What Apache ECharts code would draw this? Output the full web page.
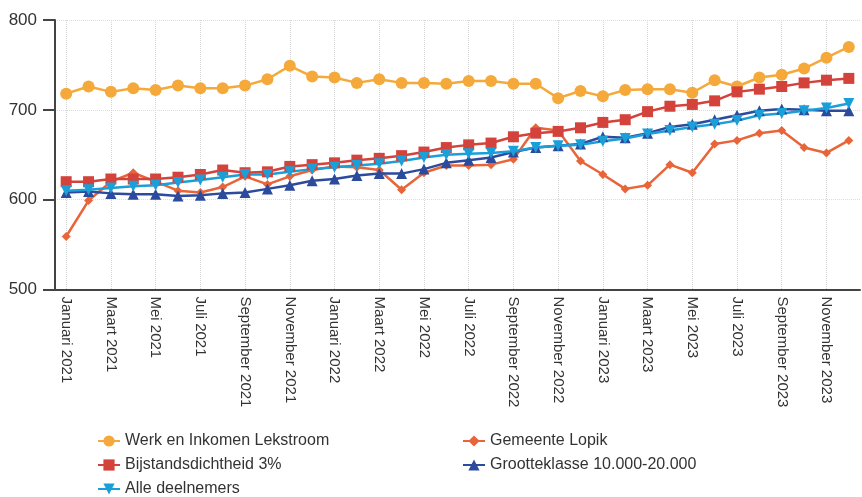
<!DOCTYPE html>
<html lang="nl">
<head>
    <meta charset="UTF-8">
    <title>Bijstand</title>
    <script type="text/javascript" src="https://cdn.jsdelivr.net/npm/echarts@6/dist/echarts.min.js"></script>
    <style>
        body { margin: 0; background: #fff; }
    </style>
</head>
<body>
<div id="main" style="width: 862px;height:497px"></div>
<script type="text/javascript">
    var maanden = ['Januari', 'Februari', 'Maart', 'April', 'Mei', 'Juni', 'Juli', 'Augustus', 'September', 'Oktober', 'November', 'December'];
    var jaren = [2021, 2022, 2023];
    var categories = [];
    for (var j = 0; j < jaren.length; j++) {
        for (var m = 0; m < maanden.length; m++) {
            categories.push(maanden[m] + ' ' + jaren[j]);
        }
    }

    var yTicks = [500, 600, 700, 800];

    var lekstroom = [718,726,720,724,722,727,724,724,727,734,749,737,736,730,734,730,730,729,732,732,729,729,713,721,715,722,723,723,719,733,726,736,739,746,758,770];
    var lopik = [559,599,620,630,620,610,608,614,626,617,626,633,637,636,633,611,630,638,638,639,645,680,677,643,628,612,616,639,630,662,666,674,677,658,652,666];
    var bijstand = [620,620,623,623,623,625,628,633,630,631,637,639,641,644,646,649,653,658,661,663,670,674,676,680,686,689,698,704,706,710,720,723,726,730,733,735];
    var grootte = [608,609,607,606,606,604,605,607,608,612,616,621,623,627,629,629,634,641,644,647,653,658,660,662,670,669,674,681,684,689,694,699,701,700,699,699];
    var alle = [610,611,613,615,616,619,622,625,628,628,631,634,636,638,640,643,647,650,651,652,654,658,660,661,665,668,673,677,681,684,688,694,696,699,702,707];

    var chartDom = document.getElementById('main');
    var myChart = echarts.init(chartDom);

    function lijn(naam, data, kleur, symbool, grootte, draai) {
        return {
            name: naam,
            type: 'line',
            data: data,
            symbol: symbool,
            symbolSize: grootte,
            symbolRotate: draai || 0,
            color: kleur,
            lineStyle: { width: 2.5, color: kleur },
            itemStyle: { color: kleur },
            animation: false
        };
    }

    var font = 'Liberation Sans, Arial, sans-serif';

    var option = {
        backgroundColor: '#fff',
        grid: { left: 55, right: 2, top: 20, bottom: 207.5 },
        legend: [
            {
                left: 92, top: 428, height: 80, orient: 'vertical', itemGap: 8,
                itemWidth: 22, itemHeight: 14,
                textStyle: { fontFamily: font, fontSize: 16, color: '#333' },
                data: ['Werk en Inkomen Lekstroom', 'Bijstandsdichtheid 3%', 'Alle deelnemers']
            },
            {
                left: 457, top: 428, height: 80, orient: 'vertical', itemGap: 8,
                itemWidth: 22, itemHeight: 14,
                textStyle: { fontFamily: font, fontSize: 16, color: '#333' },
                data: ['Gemeente Lopik', 'Grootteklasse 10.000-20.000']
            }
        ],
        xAxis: {
            type: 'category',
            data: categories,
            boundaryGap: true,
            axisLine: { lineStyle: { color: '#444', width: 2 } },
            axisTick: { show: false },
            axisLabel: {
                interval: 1,
                rotate: -90,
                margin: 7,
                fontFamily: font,
                fontSize: 15,
                color: '#333'
            },
            splitLine: {
                show: true,
                interval: 1,
                alignWithLabel: true,
                lineStyle: { color: '#d4d4d4', type: 'dotted', width: 1 }
            }
        },
        yAxis: {
            type: 'value',
            min: yTicks[0],
            max: yTicks[yTicks.length - 1],
            interval: 100,
            axisLine: { show: true, lineStyle: { color: '#444', width: 2 } },
            axisTick: { show: true, length: 12, lineStyle: { color: '#444', width: 2 } },
            axisLabel: {
                margin: 18,
                fontFamily: font,
                fontSize: 17,
                color: '#333'
            },
            splitLine: { lineStyle: { color: '#dcdcdc', type: 'dotted', width: 1 } }
        },
        series: [
            lijn('Werk en Inkomen Lekstroom', lekstroom, '#F4A93A', 'circle', 12),
            lijn('Gemeente Lopik', lopik, '#E8653A', 'diamond', 9),
            lijn('Bijstandsdichtheid 3%', bijstand, '#D4433B', 'rect', 11),
            lijn('Grootteklasse 10.000-20.000', grootte, '#2D4B9C', 'triangle', 11),
            lijn('Alle deelnemers', alle, '#1B9FD9', 'triangle', 11, 180)
        ]
    };

    option && myChart.setOption(option);
</script>
</body>
</html>
